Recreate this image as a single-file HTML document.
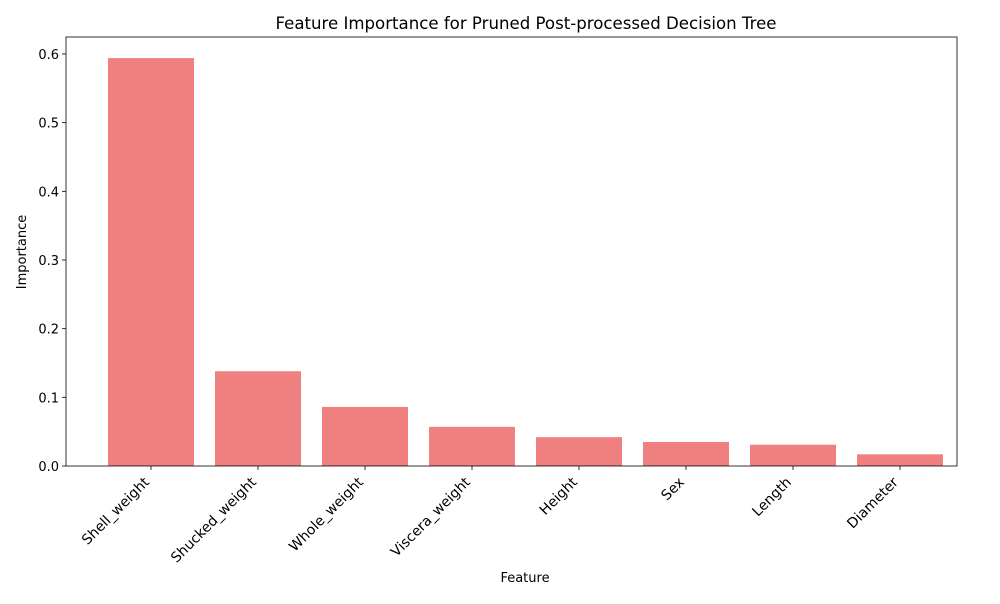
<!DOCTYPE html>
<html><head><meta charset="utf-8"><style>
body{margin:0;background:#fff;font-family:"DejaVu Sans","Liberation Sans",sans-serif;}
</style></head><body>
<svg id="chart" width="1000" height="600" xmlns="http://www.w3.org/2000/svg" font-family="DejaVu Sans, Liberation Sans, sans-serif">
</svg>
<script>
const categories=["Shell_weight","Shucked_weight","Whole_weight","Viscera_weight","Height","Sex","Length","Diameter"];
const values=[0.594,0.138,0.086,0.057,0.042,0.035,0.031,0.017];
const yTicks=[0,0.1,0.2,0.3,0.4,0.5,0.6];
const L=66,R=957,T=37,B=466;
const yScale=v=>B-v*686.7;
const xScale=i=>151+i*107;
const bw=86;
const svg=document.getElementById('chart');
const NS='http://www.w3.org/2000/svg';
function mk(tag,attrs,parent){const e=document.createElementNS(NS,tag);for(const k in attrs)e.setAttribute(k,attrs[k]);(parent||svg).appendChild(e);return e;}
categories.forEach((c,i)=>{
  const r=mk('rect',{x:xScale(i)-bw/2,y:yScale(values[i]),width:bw,height:B-yScale(values[i]),fill:'#f08080'});
  
  
  mk('line',{x1:xScale(i),x2:xScale(i),y1:B,y2:B+4,stroke:'#000','stroke-width':0.8});
  const ax=xScale(i)-1, ay=B+17;
  const t=mk('text',{x:ax,y:ay,'font-size':14,'text-anchor':'end',transform:`rotate(-45 ${ax} ${ay})`});
  t.textContent=c;
  
  
});
yTicks.forEach(v=>{
  const y=yScale(v);
  mk('line',{x1:L-4,x2:L,y1:y,y2:y,stroke:'#000','stroke-width':0.8});
  const t=mk('text',{x:L-7,y:y+5,'font-size':13,'text-anchor':'end'});
  t.textContent=v.toFixed(1);
  
  
});
const f=mk('rect',{x:L,y:T,width:R-L,height:B-T,fill:'none',stroke:'#000','stroke-width':0.8});


const title=mk('text',{x:526,y:29,'font-size':16.6,'text-anchor':'middle'});
title.textContent='Feature Importance for Pruned Post-processed Decision Tree';


const xt=mk('text',{x:525,y:582,'font-size':13,'text-anchor':'middle'});
xt.textContent='Feature';


const yt=mk('text',{x:26,y:252,'font-size':13,'text-anchor':'middle',transform:'rotate(-90 26 252)'});
yt.textContent='Importance';


</script>
</body></html>
